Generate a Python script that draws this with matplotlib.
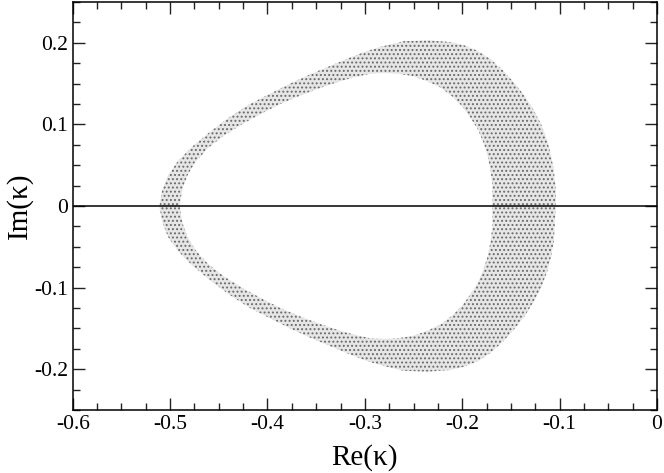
import numpy as np
import matplotlib
matplotlib.use("Agg")
import matplotlib.pyplot as plt
from matplotlib.path import Path
from matplotlib.patches import PathPatch
from matplotlib.ticker import MultipleLocator

plt.rcParams["font.family"] = ["Liberation Serif", "DejaVu Serif"]
plt.rcParams["hatch.linewidth"] = 0.9

# upper half of the region boundaries (lower half is the mirror image)
outer_re = [-0.104, -0.104, -0.106, -0.109, -0.113, -0.119, -0.127, -0.136, -0.146,
            -0.158, -0.171, -0.184, -0.198, -0.213, -0.235, -0.260, -0.284, -0.300,
            -0.315, -0.335, -0.355, -0.375, -0.395, -0.418, -0.440, -0.460, -0.478,
            -0.492, -0.502, -0.508, -0.511]
outer_im = [0.000, 0.022, 0.044, 0.063, 0.081, 0.100, 0.118, 0.135, 0.150,
            0.166, 0.180, 0.190, 0.197, 0.201, 0.203, 0.202, 0.195, 0.189,
            0.182, 0.172, 0.162, 0.151, 0.139, 0.125, 0.108, 0.090, 0.072,
            0.055, 0.038, 0.020, 0.000]
inner_re = [-0.168, -0.169, -0.171, -0.174, -0.178, -0.184, -0.192, -0.200, -0.210,
            -0.222, -0.236, -0.250, -0.265, -0.280, -0.295, -0.310, -0.325, -0.345,
            -0.365, -0.385, -0.405, -0.425, -0.445, -0.461, -0.474, -0.482, -0.487,
            -0.489, -0.490]
inner_im = [0.000, 0.025, 0.044, 0.062, 0.077, 0.094, 0.109, 0.122, 0.134,
            0.145, 0.153, 0.159, 0.162, 0.163, 0.162, 0.158, 0.153, 0.145,
            0.136, 0.126, 0.114, 0.101, 0.086, 0.071, 0.054, 0.038, 0.022,
            0.010, 0.000]


def closed_loop(re, im):
    re = np.asarray(re)
    im = np.asarray(im)
    x = np.concatenate([re, re[-2:0:-1]])
    y = np.concatenate([im, -im[-2:0:-1]])
    return np.column_stack([x, y])


outer = closed_loop(outer_re, outer_im)
inner = closed_loop(inner_re, inner_im)[::-1]

fig = plt.figure(figsize=(6.64, 4.73), dpi=100)
ax = fig.add_axes([0.1095, 0.1332, 0.88, 0.8626])

region = Path.make_compound_path(Path(outer, closed=True), Path(inner, closed=True))
patch = PathPatch(region, facecolor="#e6e6e6", edgecolor="#6a6a6a", hatch="....",
                  linewidth=0)
ax.add_patch(patch)

ax.axhline(0, color="k", lw=1.1)

ax.set_xlim(-0.6, 0)
ax.set_ylim(-0.25, 0.25)
ax.xaxis.set_major_locator(MultipleLocator(0.1))
ax.xaxis.set_minor_locator(MultipleLocator(0.025))
ax.yaxis.set_major_locator(MultipleLocator(0.1))
ax.yaxis.set_minor_locator(MultipleLocator(0.025))
fmt = plt.FuncFormatter(lambda v, p: f"{v:g}" if abs(v) > 1e-9 else "0")
ax.xaxis.set_major_formatter(fmt)
ax.yaxis.set_major_formatter(fmt)
ax.tick_params(which="both", direction="in", top=True, right=True, width=1.0,
               labelsize=15.5, color="#222222")
ax.tick_params(which="major", length=8.6)
ax.tick_params(which="minor", length=4.8)
for s in ax.spines.values():
    s.set_linewidth(1.1)

ax.set_xlabel("Re(κ)", fontsize=21, labelpad=7)
ax.set_ylabel("Im(κ)", fontsize=21, labelpad=1)

fig.savefig("out.png", dpi=100)
